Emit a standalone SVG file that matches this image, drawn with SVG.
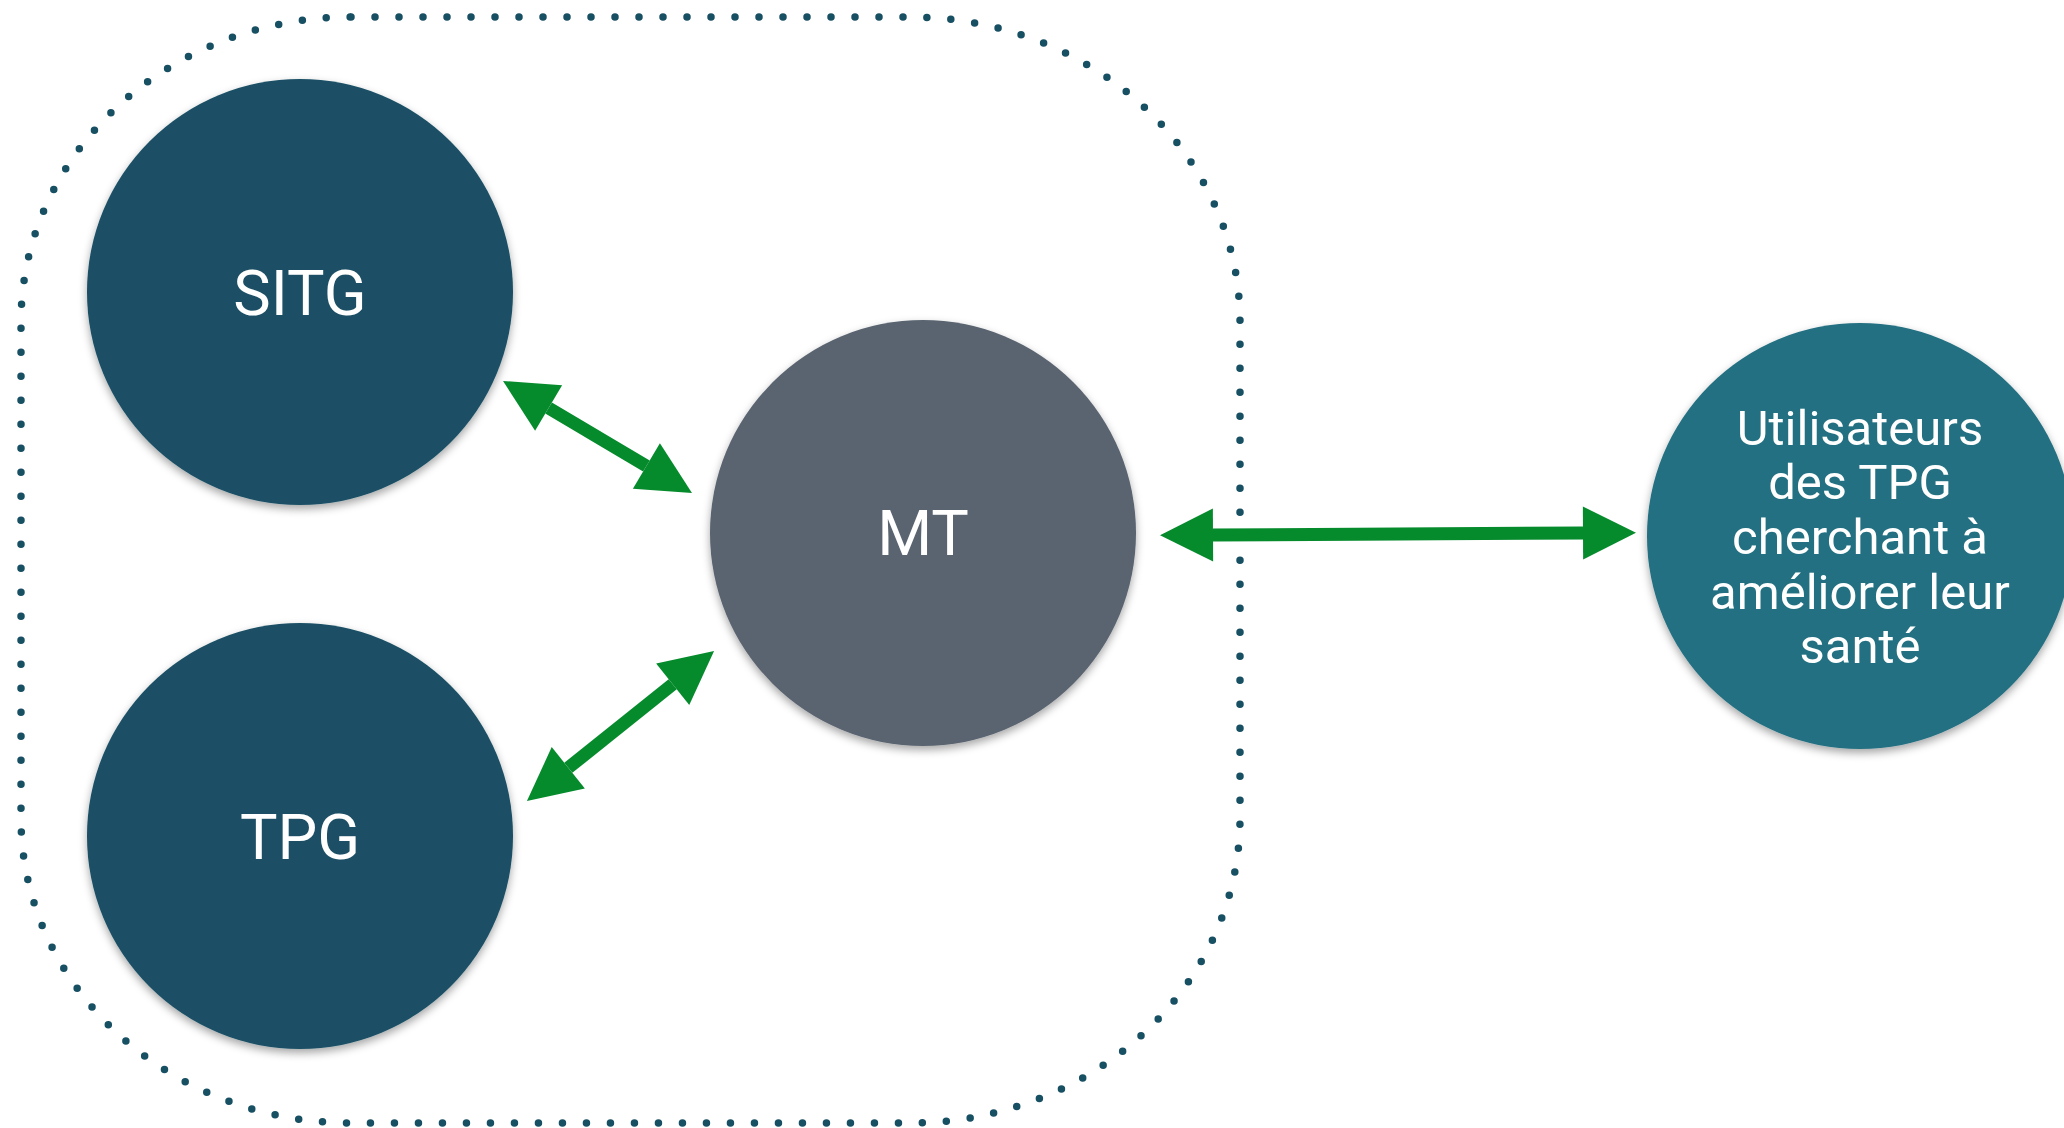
<svg xmlns="http://www.w3.org/2000/svg" width="2064" height="1128" viewBox="0 0 2064 1128">
<style>
.lbl{font-family:Roboto,"Liberation Sans",sans-serif;fill:#ffffff;text-anchor:middle}
.big{font-size:63px}
.small{font-size:49px}
.conn{stroke:#058a2c;stroke-width:13;fill:none;marker-start:url(#head);marker-end:url(#head)}
</style>
<defs>
<marker id="head" markerUnits="userSpaceOnUse" markerWidth="60" markerHeight="60" refX="0" refY="0" orient="auto-start-reverse" overflow="visible">
<path d="M0,-26.5 L53,0 L0,26.5 z" fill="#058a2c"/>
</marker>
<filter id="sh" x="-20%" y="-20%" width="140%" height="150%">
<feDropShadow dx="0" dy="4" stdDeviation="4" flood-color="#000" flood-opacity="0.35"/>
</filter>
</defs>
<rect id="boundary" x="21" y="17" width="1219" height="1106" rx="330" ry="305" fill="none" stroke="#174f63" stroke-width="7.5" stroke-linecap="round" stroke-dasharray="0 24"/>
<g id="connectors">
<line class="conn" x1="548.6" y1="408" x2="646.4" y2="466"/>
<line class="conn" x1="568.3" y1="767.8" x2="672.7" y2="684.2"/>
<line class="conn" x1="1213" y1="535" x2="1583" y2="533"/>
</g>
<g id="node-sitg">
<circle cx="300" cy="292" r="213" fill="#1a5065" filter="url(#sh)"/>
<text class="lbl big" x="300" y="315">SITG</text>
</g>
<g id="node-tpg">
<circle cx="300" cy="836" r="213" fill="#1a5065" filter="url(#sh)"/>
<text class="lbl big" x="300" y="859">TPG</text>
</g>
<g id="node-mt">
<circle cx="923" cy="533" r="213" fill="#5a6470" filter="url(#sh)"/>
<text class="lbl big" x="923" y="555">MT</text>
</g>
<g id="node-users">
<circle cx="1860" cy="536" r="213" fill="#236f81" filter="url(#sh)"/>
<text class="lbl small" x="1860" y="445">Utilisateurs</text>
<text class="lbl small" x="1860" y="499">des TPG</text>
<text class="lbl small" x="1860" y="554">cherchant à</text>
<text class="lbl small" x="1860" y="609">améliorer leur</text>
<text class="lbl small" x="1860" y="663">santé</text>
</g>
</svg>
